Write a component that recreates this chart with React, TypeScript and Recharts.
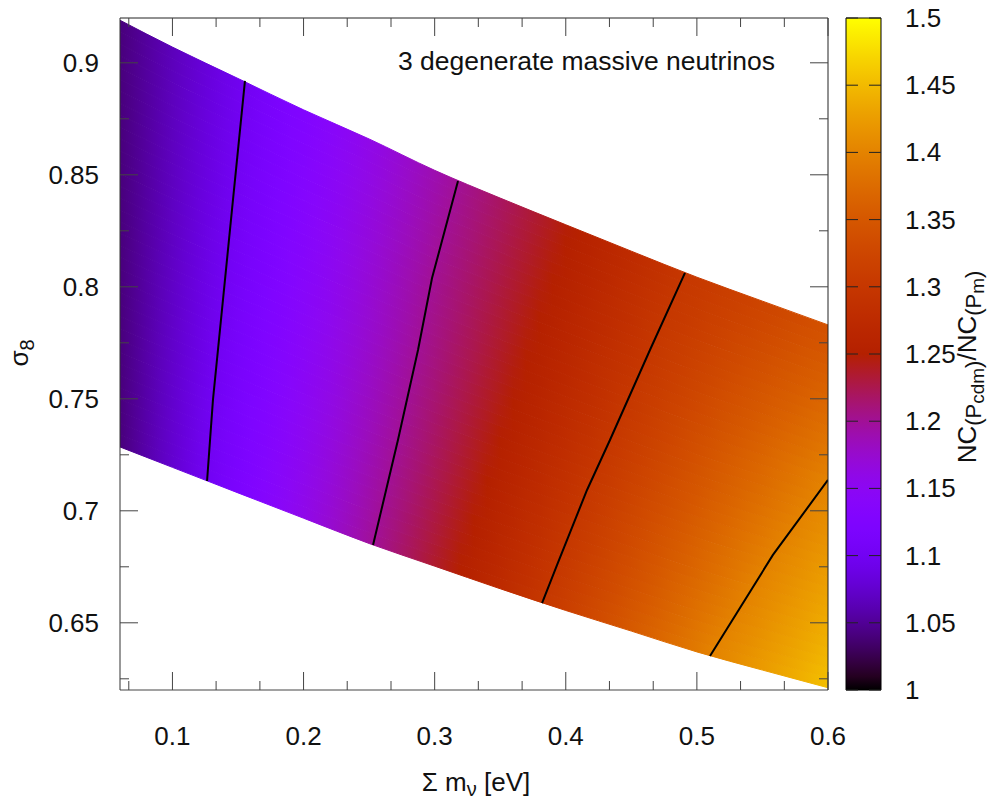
import React from 'react'
import { Area, ComposedChart, Line, ReferenceArea, XAxis, YAxis } from 'recharts'

const W = 994
const H = 803
const FONT = '"Liberation Sans", Arial, Helvetica, sans-serif'
const INK = '#111'
const TICK_COLOR = '#444'

// band edges of the sampled (sum m_nu, sigma_8) region
const SUM_MNU = [0.06, 0.1, 0.15, 0.2, 0.25, 0.3, 0.35, 0.4, 0.45, 0.5, 0.55, 0.6]
const SIGMA8_UPPER = [0.919, 0.907, 0.893, 0.879, 0.866, 0.852, 0.8396, 0.8277, 0.8159, 0.8043, 0.7936, 0.783]
const SIGMA8_LOWER = [0.7285, 0.7194, 0.708, 0.6967, 0.6854, 0.6753, 0.6652, 0.6555, 0.6463, 0.637, 0.6289, 0.621]

// iso-lines of NC(Pcdm)/NC(Pm)
const CONTOUR_110 = [
  { x: 0.1553, s8: 0.8919 },
  { x: 0.1454, s8: 0.8343 },
  { x: 0.1309, s8: 0.7495 },
  { x: 0.1264, s8: 0.7133 }
]
const CONTOUR_120 = [
  { x: 0.3178, s8: 0.8472 },
  { x: 0.298, s8: 0.8039 },
  { x: 0.2873, s8: 0.7718 },
  { x: 0.272, s8: 0.7316 },
  { x: 0.253, s8: 0.6847 }
]
const CONTOUR_130 = [
  { x: 0.4909, s8: 0.8062 },
  { x: 0.4642, s8: 0.7718 },
  { x: 0.4337, s8: 0.7316 },
  { x: 0.4162, s8: 0.7093 },
  { x: 0.3933, s8: 0.6758 },
  { x: 0.3819, s8: 0.6588 }
]
const CONTOUR_140 = [
  { x: 0.6, s8: 0.7138 },
  { x: 0.558, s8: 0.6803 },
  { x: 0.51, s8: 0.6352 }
]
const CONTOURS = [
  { level: 1.1, pts: CONTOUR_110 },
  { level: 1.2, pts: CONTOUR_120 },
  { level: 1.3, pts: CONTOUR_130 },
  { level: 1.4, pts: CONTOUR_140 }
]

// ratio along the left and right edges of the band
const LEFT_EDGE_RATIO = 1.04
const RIGHT_EDGE_S8 = [0.621, 0.7138, 0.783]
const RIGHT_EDGE_RATIO = [1.455, 1.4, 1.34]

const X_MAJOR = [0.1, 0.2, 0.3, 0.4, 0.5, 0.6]
const X_MINOR = [0.0667, 0.1333, 0.1667, 0.2333, 0.2667, 0.3333, 0.3667, 0.4333, 0.4667, 0.5333, 0.5667]
const Y_MAJOR = [0.65, 0.7, 0.75, 0.8, 0.85, 0.9]
const Y_MINOR = [0.625, 0.675, 0.725, 0.775, 0.825, 0.875]
const CB_TICKS = [1, 1.05, 1.1, 1.15, 1.2, 1.25, 1.3, 1.35, 1.4, 1.45, 1.5]

const X_TICKS = [...X_MAJOR, ...X_MINOR].sort((a, b) => a - b)
const Y_TICKS = [...Y_MAJOR, ...Y_MINOR].sort((a, b) => a - b)

// gnuplot default pm3d palette (rgbformulae 7,5,15)
const palette = (t: number) => {
  const u = Math.min(1, Math.max(0, t))
  const r = Math.sqrt(u)
  const g = u * u * u
  const b = Math.max(0, Math.sin(2 * Math.PI * u))
  return `rgb(${Math.round(r * 255)},${Math.round(g * 255)},${Math.round(b * 255)})`
}
const ratioColor = (v: number) => palette((v - 1) / 0.5)

function interp(xs: number[], ys: number[], x: number) {
  const n = xs.length
  let i = 0
  if (x >= xs[n - 1]) i = n - 2
  else if (x > xs[0]) while (i < n - 2 && x > xs[i + 1]) i++
  const dx = xs[i + 1] - xs[i]
  if (Math.abs(dx) < 1e-9) return ys[i]
  return ys[i] + ((x - xs[i]) / dx) * (ys[i + 1] - ys[i])
}

// the band is painted as thin strips, each with its own horizontal gradient
const N_ROWS = 36
const X0 = SUM_MNU[0]
const X1 = SUM_MNU[SUM_MNU.length - 1]

const chartData = SUM_MNU.map((x, i) => {
  const lo = SIGMA8_LOWER[i]
  const hi = SIGMA8_UPPER[i]
  const d: any = { x }
  for (let k = 0; k < N_ROWS; k++) {
    d[`row${k}`] = [lo + ((hi - lo) * k) / N_ROWS, lo + ((hi - lo) * (k + 1)) / N_ROWS]
  }
  return d
})

const rowStops = Array.from({ length: N_ROWS }, (_, k) => {
  const tm = (k + 0.5) / N_ROWS
  const mid = (x: number) => {
    const lo = interp(SUM_MNU, SIGMA8_LOWER, x)
    const hi = interp(SUM_MNU, SIGMA8_UPPER, x)
    return lo + (hi - lo) * tm
  }
  const knots = [{ x: X0, v: LEFT_EDGE_RATIO }]
  CONTOURS.forEach(({ level, pts }) => {
    const s = [...pts].sort((a, b) => a.s8 - b.s8)
    const ss = s.map((p) => p.s8)
    const sx = s.map((p) => p.x)
    let x = interp(ss, sx, mid(0.3))
    for (let it = 0; it < 30; it++) x = interp(ss, sx, mid(x))
    knots.push({ x, v: level })
  })
  knots.push({ x: X1, v: interp(RIGHT_EDGE_S8, RIGHT_EDGE_RATIO, mid(X1)) })
  knots.sort((a, b) => a.x - b.x)
  const kx = knots.map((p) => p.x)
  const kv = knots.map((p) => p.v)
  const stops: { o: number; c: string }[] = []
  const n = 54
  for (let i = 0; i <= n; i++) {
    const x = X0 + ((X1 - X0) * i) / n
    stops.push({ o: i / n, c: ratioColor(interp(kx, kv, x)) })
  }
  return stops
})

const xTick = (side: 'bottom' | 'top') => (props: any) => {
  const { x, y, payload } = props
  const major = X_MAJOR.includes(payload.value)
  const len = major ? 18 : 9
  const dir = side === 'bottom' ? -1 : 1
  return (
    <g>
      <line x1={x} y1={y} x2={x} y2={y + dir * len} stroke={TICK_COLOR} strokeWidth={1} />
      {side === 'bottom' && major && (
        <text x={x} y={y + 55} textAnchor="middle" fontSize={26} fill={INK} fontFamily={FONT}>
          {payload.value}
        </text>
      )}
    </g>
  )
}

const yTick = (side: 'left' | 'right') => (props: any) => {
  const { x, y, payload } = props
  const major = Y_MAJOR.includes(payload.value)
  const len = major ? 18 : 9
  const dir = side === 'left' ? 1 : -1
  return (
    <g>
      <line x1={x} y1={y} x2={x + dir * len} y2={y} stroke={TICK_COLOR} strokeWidth={1} />
      {side === 'left' && major && (
        <text x={x - 21} y={y + 9} textAnchor="end" fontSize={26} fill={INK} fontFamily={FONT}>
          {payload.value}
        </text>
      )}
    </g>
  )
}

const cbTick = (side: 'left' | 'right') => (props: any) => {
  const { x, y, payload } = props
  const dir = side === 'left' ? 1 : -1
  return (
    <g>
      <line x1={x} y1={y} x2={x + dir * 12} y2={y} stroke="#222" strokeWidth={1} />
      {side === 'right' && (
        <text x={x + 24} y={y + 9} textAnchor="start" fontSize={26} fill={INK} fontFamily={FONT}>
          {payload.value}
        </text>
      )}
    </g>
  )
}

const MainPlot = () => (
  <ComposedChart width={W} height={H} data={chartData} margin={{ top: 18, right: 166, bottom: 53, left: 20 }}>
    <defs>
      {rowStops.map((stops, k) => (
        <linearGradient key={k} id={`row${k}`} x1="0" y1="0" x2="1" y2="0">
          {stops.map((s, i) => (
            <stop key={i} offset={s.o} stopColor={s.c} />
          ))}
        </linearGradient>
      ))}
    </defs>
    {rowStops.map((_, k) => (
      <Area
        key={k}
        xAxisId="b"
        yAxisId="l"
        dataKey={`row${k}`}
        type="monotone"
        fill={`url(#row${k})`}
        fillOpacity={1}
        stroke={`url(#row${k})`}
        strokeWidth={1}
        dot={false}
        activeDot={false}
        isAnimationActive={false}
      />
    ))}
    {CONTOURS.map((c) => (
      <Line
        key={c.level}
        xAxisId="b"
        yAxisId="l"
        data={c.pts}
        dataKey="s8"
        type="linear"
        stroke="#000"
        strokeWidth={2}
        dot={false}
        activeDot={false}
        isAnimationActive={false}
      />
    ))}
    <XAxis
      xAxisId="b"
      dataKey="x"
      type="number"
      domain={[0.06, 0.6]}
      allowDataOverflow
      ticks={X_TICKS}
      interval={0}
      tickSize={0}
      tickMargin={0}
      tickLine={false}
      height={60}
      axisLine={{ stroke: TICK_COLOR }}
      tick={xTick('bottom')}
    />
    <XAxis
      xAxisId="t"
      orientation="top"
      mirror
      dataKey="x"
      type="number"
      domain={[0.06, 0.6]}
      allowDataOverflow
      ticks={X_TICKS}
      interval={0}
      tickSize={0}
      tickMargin={0}
      tickLine={false}
      axisLine={{ stroke: '#222' }}
      tick={xTick('top')}
    />
    <YAxis
      yAxisId="l"
      type="number"
      domain={[0.62, 0.92]}
      allowDataOverflow
      ticks={Y_TICKS}
      interval={0}
      width={100}
      tickSize={0}
      tickMargin={0}
      tickLine={false}
      axisLine={{ stroke: '#333' }}
      tick={yTick('left')}
    />
    <YAxis
      yAxisId="r"
      orientation="right"
      mirror
      type="number"
      domain={[0.62, 0.92]}
      allowDataOverflow
      ticks={Y_TICKS}
      interval={0}
      tickSize={0}
      tickMargin={0}
      tickLine={false}
      axisLine={{ stroke: '#222' }}
      tick={yTick('right')}
    />
  </ComposedChart>
)

const ColorBar = () => (
  <ComposedChart width={W} height={H} data={[{ x: 0 }, { x: 1 }]} margin={{ top: 18, right: 13, bottom: 113, left: 846 }}>
    <defs>
      <linearGradient id="cbar" x1="0" y1="1" x2="0" y2="0">
        {Array.from({ length: 51 }, (_, i) => (
          <stop key={i} offset={i / 50} stopColor={palette(i / 50)} />
        ))}
      </linearGradient>
    </defs>
    <XAxis xAxisId="cb" dataKey="x" type="number" domain={[0, 1]} allowDataOverflow hide />
    <ReferenceArea
      xAxisId="cb"
      yAxisId="cbl"
      y1={1}
      y2={1.5}
      fill="url(#cbar)"
      fillOpacity={1}
      stroke="#000"
      strokeWidth={1}
      ifOverflow="visible"
    />
    <YAxis
      yAxisId="cbl"
      orientation="left"
      mirror
      type="number"
      domain={[1, 1.5]}
      allowDataOverflow
      ticks={CB_TICKS}
      interval={0}
      tickSize={0}
      tickMargin={0}
      tickLine={false}
      axisLine={false}
      tick={cbTick('left')}
    />
    <YAxis
      yAxisId="cbr"
      orientation="right"
      type="number"
      domain={[1, 1.5]}
      allowDataOverflow
      ticks={CB_TICKS}
      interval={0}
      width={100}
      tickSize={0}
      tickMargin={0}
      tickLine={false}
      axisLine={false}
      tick={cbTick('right')}
    />
  </ComposedChart>
)

const Titles = () => (
  <svg width={W} height={H} style={{ position: 'absolute', left: 0, top: 0, pointerEvents: 'none' }}>
    <g fontFamily={FONT} fill={INK}>
      <text x={775} y={70} textAnchor="end" fontSize={26.5}>
        3 degenerate massive neutrinos
      </text>
      <text x={476} y={791} textAnchor="middle" fontSize={26}>
        Σ m
        <tspan dy={5} fontSize={20}>ν</tspan>
        <tspan dy={-5}> [eV]</tspan>
      </text>
      <text transform="translate(28,353) rotate(-90)" textAnchor="middle" fontSize={26}>
        σ<tspan dy={6} fontSize={20}>8</tspan>
      </text>
      <text transform="translate(976,367) rotate(-90)" textAnchor="middle" fontSize={26}>
        NC
        <tspan dy={5} fontSize={22}>(P</tspan>
        <tspan dy={3} fontSize={19}>cdm</tspan>
        <tspan dy={-3} fontSize={22}>)</tspan>
        <tspan dy={-5} fontSize={26}>/NC</tspan>
        <tspan dy={5} fontSize={22}>(P</tspan>
        <tspan dy={3} fontSize={19}>m</tspan>
        <tspan dy={-3} fontSize={22}>)</tspan>
      </text>
    </g>
  </svg>
)

export default function App() {
  return (
    <div style={{ position: 'absolute', left: 0, top: 0, width: W, height: H, background: '#fff' }}>
      <div style={{ position: 'absolute', left: 0, top: 0 }}>
        <MainPlot />
      </div>
      <div style={{ position: 'absolute', left: 0, top: 0 }}>
        <ColorBar />
      </div>
      <Titles />
    </div>
  )
}
